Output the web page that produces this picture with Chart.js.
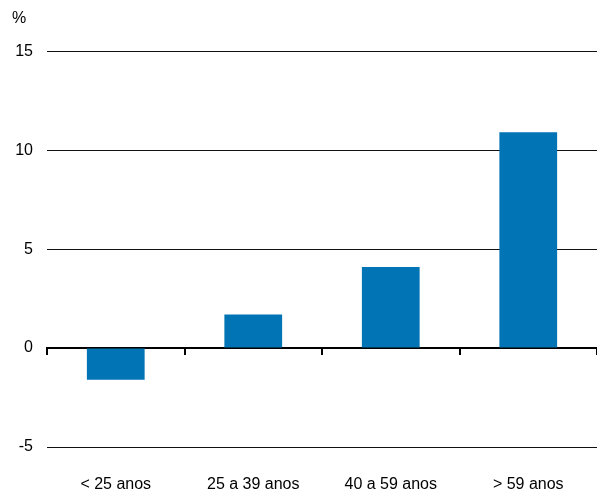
<!DOCTYPE html>
<html>
<head>
<meta charset="utf-8">
<script src="https://cdn.jsdelivr.net/npm/chart.js@4/dist/chart.umd.min.js"></script>
<style>
    html, body { margin: 0; padding: 0; background: #fff; }
    #wrap { width: 597px; height: 490px; }
</style>
</head>
<body>
<div id="wrap"><canvas id="chart"></canvas></div>
<script>
const categories = ['< 25 anos', '25 a 39 anos', '40 a 59 anos', '> 59 anos'];
const values = [-1.6, 1.7, 4.1, 10.9];
const yTicks = [-5, 0, 5, 10, 15];

const FONT = { family: 'Liberation Sans, Arial, sans-serif', size: 16 };
const BAR_COLOR = '#0074B4';

new Chart(document.getElementById('chart'), {
    type: 'bar',
    data: {
        labels: categories,
        datasets: [{
            data: values,
            backgroundColor: BAR_COLOR,
            borderWidth: 0,
            categoryPercentage: 1,
            barPercentage: 0.42,
        }]
    },
    options: {
        responsive: true,
        maintainAspectRatio: false,
        animation: false,
        layout: { padding: { left: 12, right: 0, top: 0, bottom: 0 } },
        plugins: {
            legend: { display: false },
            tooltip: { enabled: false },
            title: {
                display: true,
                text: '%',
                align: 'start',
                color: '#000',
                font: { ...FONT, weight: 'normal' },
                padding: { top: 9, bottom: 23 },
            },
        },
        scales: {
            x: {
                grid: { display: false },
                border: { display: false },
                ticks: { color: '#000', font: FONT, padding: 20, maxRotation: 0 },
                afterFit: (scale) => { scale.height = 43; },
            },
            // zero line with the category tick marks hanging below it
            x0: {
                type: 'category',
                labels: categories,
                position: { y: 0 },
                grid: {
                    offset: true,
                    drawOnChartArea: false,
                    drawTicks: true,
                    tickLength: 6,
                    color: '#000',
                    lineWidth: 2,
                },
                border: { display: true, color: '#000', width: 2 },
                ticks: { display: false },
            },
            y: {
                min: -5,
                max: 15,
                afterBuildTicks: (scale) => { scale.ticks = yTicks.map(v => ({ value: v })); },
                afterFit: (scale) => { scale.width = 35; },
                grid: {
                    drawTicks: false,
                    color: '#111',
                    lineWidth: 1,
                },
                border: { display: false },
                ticks: { color: '#000', font: FONT, padding: 14 },
            },
        },
    },
});
</script>
</body>
</html>
